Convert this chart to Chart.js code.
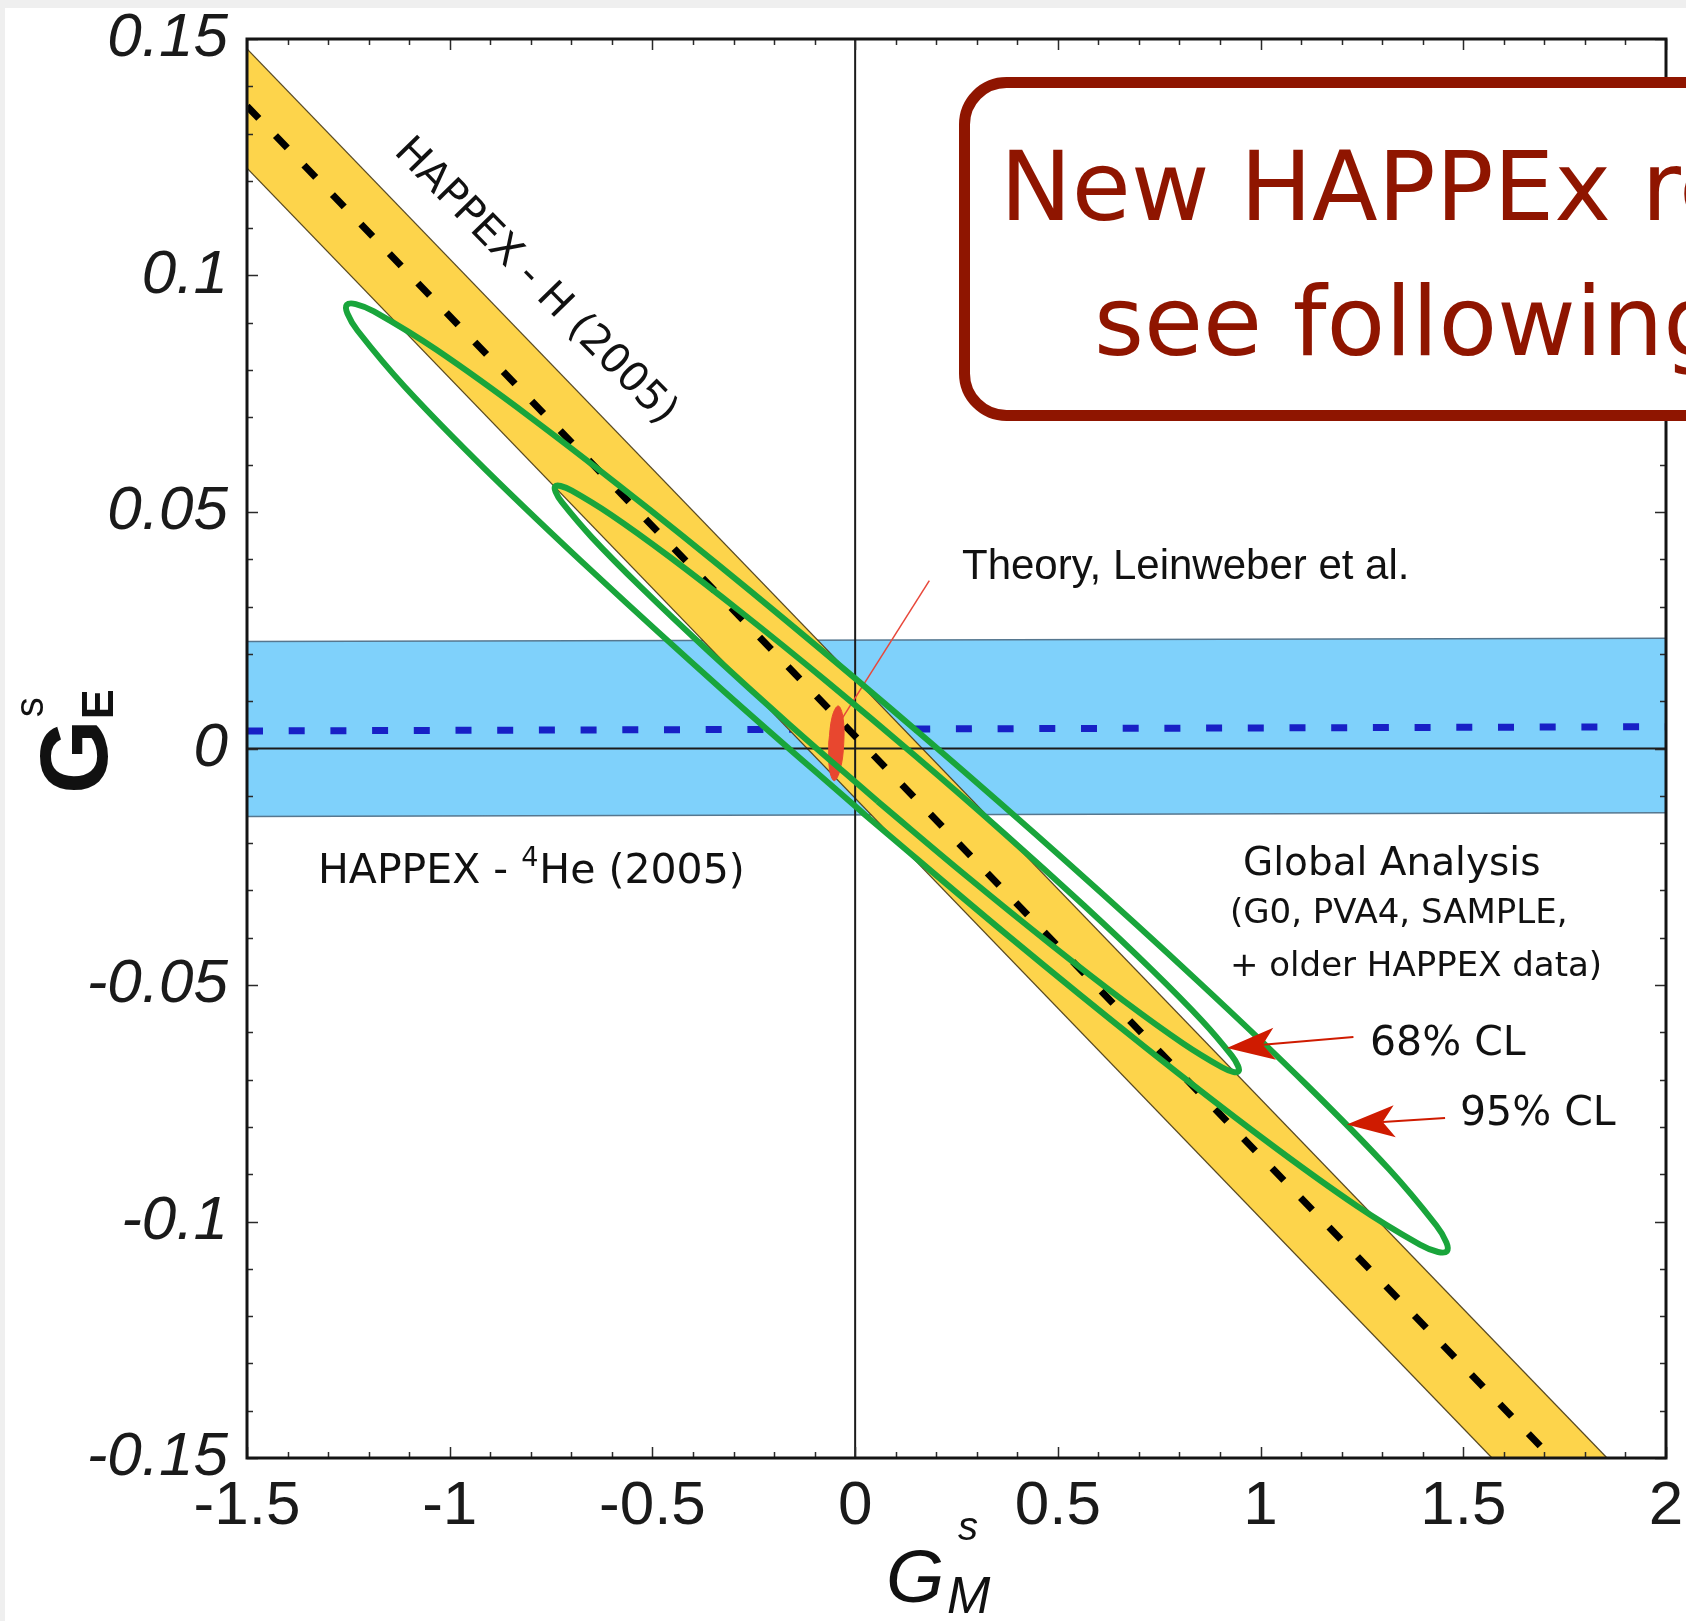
<!DOCTYPE html>
<html>
<head>
<meta charset="utf-8">
<title>Strange form factors: G_E^s versus G_M^s</title>
<script src="https://cdn.jsdelivr.net/npm/chart.js@4.4.1/dist/chart.umd.min.js"></script>
<style>
  html, body { margin: 0; padding: 0; background: #efefef; }
  #wrap { position: absolute; left: 0; top: 0; width: 1686px; height: 1621px; overflow: hidden; }
  #sheet { position: absolute; left: 5px; top: 8px; right: 0; bottom: 0; background: #ffffff; }
  #chart { position: absolute; left: 0; top: 0; }
</style>
</head>
<body>
<div id="wrap">
  <div id="sheet"></div>
  <canvas id="chart" width="1686" height="1621"></canvas>
</div>
<script>
// ---- tick labels ----
const xTickLabels = ['-1.5', '-1', '-0.5', '0', '0.5', '1', '1.5', '2'];
const yTickLabels = ['-0.15', '-0.1', '-0.05', '0', '0.05', '0.1', '0.15'];

// ---- HAPPEX - H (2005): allowed band in the (G_M^s, G_E^s) plane ----
const hydrogenGM      = [-1.5, 2.0];
const hydrogenUpper   = [0.1479, -0.1629];
const hydrogenCentral = [0.1358, -0.1750];
const hydrogenLower   = [0.1227, -0.1881];

// ---- HAPPEX - 4He (2005): band on G_E^s ----
const heliumGM      = [-1.5, 2.0];
const heliumUpper   = [0.0226, 0.0233];
const heliumCentral = [0.0037, 0.0046];
const heliumLower   = [-0.0144, -0.0136];

// ---- Global analysis contours, traced around each contour ----
const cl95GM = [0.0247, -0.3238, -0.6431, -0.9117, -1.1110, -1.2276, -1.2522, -1.2536, -1.2318, -1.1870,
                -1.0326, -0.8009, -0.5075, -0.1724, 0.1813, 0.5298, 0.8491, 1.1177, 1.3170, 1.4336,
                1.4582, 1.4596, 1.4378, 1.3930, 1.2386, 1.0069, 0.7135, 0.3784, 0.0247];
const cl95GE = [-0.01405, 0.01211, 0.03702, 0.05898, 0.07649, 0.08837, 0.09192, 0.0938, 0.09396, 0.09241,
                0.08429, 0.07002, 0.05054, 0.02719, 0.00157, -0.02459, -0.0495, -0.07146, -0.08897, -0.10085,
                -0.1044, -0.10628, -0.10644, -0.10489, -0.09677, -0.0825, -0.06302, -0.03967, -0.01405];
const cl68GM = [0.0555, -0.1610, -0.3595, -0.5265, -0.6506, -0.7234, -0.7388, -0.7399, -0.7265, -0.6989,
                -0.6033, -0.4596, -0.2776, -0.0696, 0.1501, 0.3666, 0.5651, 0.7321, 0.8562, 0.9290,
                0.9444, 0.9455, 0.9321, 0.9045, 0.8089, 0.6652, 0.4832, 0.2752, 0.0555];
const cl68GE = [-0.01117, 0.00499, 0.02039, 0.03395, 0.04475, 0.05207, 0.05426, 0.05541, 0.0555, 0.05453,
                0.04949, 0.04065, 0.02859, 0.01415, -0.00169, -0.01785, -0.03325, -0.04681, -0.05761, -0.06493,
                -0.06712, -0.06827, -0.06836, -0.06739, -0.06235, -0.05351, -0.04145, -0.02701, -0.01117];

// ---- Theory, Leinweber et al. ----
const theoryGM = [-0.0652, -0.0564, -0.0418, -0.0302, -0.0282, -0.0371, -0.0517, -0.0633, -0.0652];
const theoryGE = [0.0012, 0.0068, 0.0090, 0.0067, 0.0010, -0.0045, -0.0068, -0.0044, 0.0012];
const theoryPointerGM = [-0.037, 0.183];
const theoryPointerGE = [0.0057, 0.0355];

// ---- zero lines ----
const zeroLineGM = [-1.5, 2.0];
const zeroLineGE = [-0.15, 0.15];
const zeroPair   = [0, 0];

// ---- CL label arrows: [tail G_M, tail G_E, tip G_M, tip G_E] ----
const arrow68 = [1.2290, -0.0610, 0.9168, -0.0633];
const arrow95 = [1.4551, -0.0781, 1.2127, -0.0795];

const pts = (xs, ys) => xs.map((v, i) => ({ x: v, y: ys[i] }));
const isMajor = (v, step) => Math.abs(v / step - Math.round(v / step)) < 1e-6;

const GREEN = '#19a53b';
const YELLOW = '#fdd44b';
const SKY = '#7fd1fb';
const DARKRED = '#8f1500';
const ARROWRED = '#cf1b00';

function drawArrow(ctx, xs, ys, a) {
  const tx = xs.getPixelForValue(a[0]), ty = ys.getPixelForValue(a[1]);
  const hx = xs.getPixelForValue(a[2]), hy = ys.getPixelForValue(a[3]);
  const L = Math.hypot(hx - tx, hy - ty);
  const dx = (hx - tx) / L, dy = (hy - ty) / L;
  const nx = -dy, ny = dx;
  ctx.strokeStyle = ARROWRED; ctx.fillStyle = ARROWRED; ctx.lineWidth = 2;
  ctx.beginPath(); ctx.moveTo(tx, ty); ctx.lineTo(hx - 36 * dx, hy - 36 * dy); ctx.stroke();
  ctx.beginPath();
  ctx.moveTo(hx, hy);
  ctx.lineTo(hx - 48 * dx + 16 * nx, hy - 48 * dy + 16 * ny);
  ctx.lineTo(hx - 36 * dx, hy - 36 * dy);
  ctx.lineTo(hx - 48 * dx - 16 * nx, hy - 48 * dy - 16 * ny);
  ctx.closePath(); ctx.fill();
}

const overlay = {
  id: 'overlay',
  afterDraw(chart) {
    const { ctx, chartArea: a, scales: { x, y } } = chart;
    ctx.save();

    // inward tick marks on all four sides
    ctx.strokeStyle = '#2a2a2a'; ctx.lineWidth = 1.5;
    ctx.beginPath();
    x.ticks.forEach(t => {
      const px = Math.round(x.getPixelForValue(t.value)) + 0.5;
      const len = isMajor(t.value, 0.5) ? 11 : 6;
      ctx.moveTo(px, a.bottom); ctx.lineTo(px, a.bottom - len);
      ctx.moveTo(px, a.top); ctx.lineTo(px, a.top + len);
    });
    y.ticks.forEach(t => {
      const py = Math.round(y.getPixelForValue(t.value)) + 0.5;
      const len = isMajor(t.value, 0.05) ? 11 : 6;
      ctx.moveTo(a.left, py); ctx.lineTo(a.left + len, py);
      ctx.moveTo(a.right, py); ctx.lineTo(a.right - len, py);
    });
    ctx.stroke();

    // frame
    ctx.strokeStyle = '#141414'; ctx.lineWidth = 3;
    ctx.strokeRect(a.left, a.top, a.right - a.left, a.bottom - a.top);

    // arrows to the contours
    drawArrow(ctx, x, y, arrow68);
    drawArrow(ctx, x, y, arrow95);

    // annotations
    ctx.fillStyle = '#111';
    ctx.textAlign = 'left'; ctx.textBaseline = 'alphabetic';
    ctx.font = '42px "Liberation Sans", Arial, sans-serif';
    ctx.fillText('Theory, Leinweber et al.', 962, 579);

    ctx.font = '41px "DejaVu Sans", sans-serif';
    let cx = 318;
    ctx.fillText('HAPPEX - ', cx, 883); cx += ctx.measureText('HAPPEX - ').width;
    ctx.font = '27px "DejaVu Sans", sans-serif';
    ctx.fillText('4', cx, 866); cx += ctx.measureText('4').width + 1;
    ctx.font = '41px "DejaVu Sans", sans-serif';
    ctx.fillText('He (2005)', cx, 883);

    ctx.font = '39px "DejaVu Sans", sans-serif';
    ctx.fillText('Global Analysis', 1243, 875);
    ctx.font = '34px "DejaVu Sans", sans-serif';
    ctx.fillText('(G0, PVA4, SAMPLE,', 1230, 923);
    ctx.fillText('+ older HAPPEX data)', 1230, 976);
    ctx.font = '41px "DejaVu Sans", sans-serif';
    ctx.fillText('68% CL', 1370, 1055);
    ctx.fillText('95% CL', 1460, 1125);

    // band label along the hydrogen band
    ctx.save();
    ctx.translate(538, 279);
    ctx.rotate(45.5 * Math.PI / 180);
    ctx.textAlign = 'center';
    ctx.font = '41px "DejaVu Sans", sans-serif';
    ctx.fillText('HAPPEX - H (2005)', 0, 15);
    ctx.restore();

    // axis titles
    ctx.save();
    ctx.translate(107, 794);
    ctx.rotate(-Math.PI / 2);
    ctx.font = 'bold 96px "Liberation Sans", Arial, sans-serif';
    ctx.fillText('G', 0, 0);
    const gw = ctx.measureText('G').width;
    ctx.font = 'bold 45px "Liberation Sans", Arial, sans-serif';
    ctx.fillText('E', gw, 6);
    ctx.font = '40px "Liberation Sans", Arial, sans-serif';
    ctx.fillText('s', gw + 2, -64);
    ctx.restore();

    ctx.font = 'italic 75px "Liberation Sans", Arial, sans-serif';
    ctx.fillText('G', 886, 1602);
    ctx.font = 'italic 40px "Liberation Sans", Arial, sans-serif';
    ctx.fillText('s', 958, 1540);
    ctx.font = 'italic 52px "Liberation Sans", Arial, sans-serif';
    ctx.fillText('M', 947, 1613);

    // notice box
    ctx.beginPath();
    ctx.roundRect(964.5, 82.5, 900, 333, 42);
    ctx.fillStyle = '#ffffff'; ctx.fill();
    ctx.strokeStyle = DARKRED; ctx.lineWidth = 11; ctx.stroke();
    ctx.fillStyle = DARKRED;
    ctx.font = '96px "DejaVu Sans", sans-serif';
    ctx.fillText('New HAPPEx results', 1000, 220);
    ctx.fillText('see following slides', 1094, 355);

    ctx.restore();
  }
};

new Chart(document.getElementById('chart'), {
  type: 'scatter',
  data: {
    datasets: [
      { label: '95% CL', data: pts(cl95GM, cl95GE), showLine: true, borderColor: GREEN, borderWidth: 6,
        tension: 0.4, fill: false, borderJoinStyle: 'round' },
      { label: '68% CL', data: pts(cl68GM, cl68GE), showLine: true, borderColor: GREEN, borderWidth: 6,
        tension: 0.4, fill: false, borderJoinStyle: 'round' },
      { label: 'Theory, Leinweber et al.', data: pts(theoryGM, theoryGE), showLine: true, borderColor: '#e8472f',
        backgroundColor: '#e8472f', borderWidth: 1, tension: 0.4, fill: 'shape' },
      { label: 'theory pointer', data: pts(theoryPointerGM, theoryPointerGE), showLine: true,
        borderColor: '#e8473a', borderWidth: 1.5, fill: false },
      { label: 'HAPPEX - H central', data: pts(hydrogenGM, hydrogenCentral), showLine: true, borderColor: '#000',
        borderWidth: 7, borderDash: [17, 24], borderCapStyle: 'butt', fill: false },
      { label: 'G_E = 0', data: pts(zeroLineGM, zeroPair), showLine: true, borderColor: '#1b1b1b', borderWidth: 2, fill: false },
      { label: 'G_M = 0', data: pts(zeroPair, zeroLineGE), showLine: true, borderColor: '#1b1b1b', borderWidth: 2, fill: false },
      { label: 'HAPPEX - H upper', data: pts(hydrogenGM, hydrogenUpper), showLine: true,
        borderColor: 'rgba(70,55,20,0.9)', borderWidth: 1.3, fill: false },
      { label: 'HAPPEX - H lower', data: pts(hydrogenGM, hydrogenLower), showLine: true,
        borderColor: 'rgba(70,55,20,0.9)', borderWidth: 1.3, backgroundColor: YELLOW, fill: '-1' },
      { label: 'HAPPEX - 4He central', data: pts(heliumGM, heliumCentral), showLine: true, borderColor: '#1820c6',
        borderWidth: 7, borderDash: [16, 25.7], borderCapStyle: 'butt', fill: false },
      { label: 'HAPPEX - 4He upper', data: pts(heliumGM, heliumUpper), showLine: true,
        borderColor: '#56778f', borderWidth: 1.5, fill: false },
      { label: 'HAPPEX - 4He lower', data: pts(heliumGM, heliumLower), showLine: true,
        borderColor: '#56778f', borderWidth: 1.5, backgroundColor: SKY, fill: '-1' }
    ]
  },
  options: {
    responsive: false,
    animation: false,
    events: [],
    elements: { point: { radius: 0 }, line: { tension: 0 } },
    layout: { padding: { left: 0, top: 39, right: 20, bottom: 0 } },
    plugins: { legend: { display: false }, tooltip: { enabled: false } },
    scales: {
      x: {
        type: 'linear', position: 'bottom', min: -1.5, max: 2,
        afterFit: s => { s.height = 163; },
        grid: { display: false, drawTicks: false },
        border: { display: false },
        ticks: {
          stepSize: 0.1, autoSkip: false, maxRotation: 0, minRotation: 0, padding: 2, color: '#1a1a1a',
          font: { family: '"Liberation Sans", Arial, sans-serif', size: 62, lineHeight: 1.5 },
          callback: v => isMajor(v, 0.5) ? xTickLabels[Math.round((v + 1.5) / 0.5)] : ''
        }
      },
      y: {
        type: 'linear', position: 'left', min: -0.15, max: 0.15,
        afterFit: s => { s.width = 247; },
        grid: { display: false, drawTicks: false },
        border: { display: false },
        ticks: {
          stepSize: 0.01, autoSkip: false, padding: 19, color: '#1a1a1a',
          font: { family: '"Liberation Sans", Arial, sans-serif', size: 62, style: 'italic', lineHeight: 0.5 },
          callback: v => isMajor(v, 0.05) ? yTickLabels[Math.round((v + 0.15) / 0.05)] : ''
        }
      }
    }
  },
  plugins: [overlay]
});
</script>
</body>
</html>
